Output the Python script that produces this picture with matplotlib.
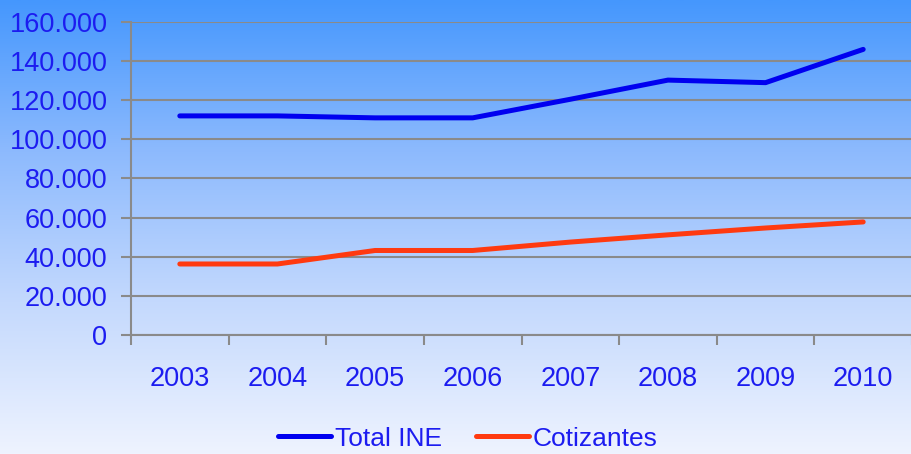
import matplotlib.pyplot as plt
import numpy as np
from matplotlib.colors import LinearSegmentedColormap

years = ['2003', '2004', '2005', '2006', '2007', '2008', '2009', '2010']
total_ine = [112000, 112000, 111000, 111000, 120500, 130300, 129000, 146000]
cotizantes = [36300, 36300, 43200, 43200, 47500, 51200, 54700, 57800]

plt.rcParams['font.family'] = ['Liberation Sans', 'DejaVu Sans']
txt_col = '#1c1cf0'

fig = plt.figure(figsize=(9.12, 4.54), dpi=100)

# gradient background over the whole figure
bg = fig.add_axes([0, 0, 1, 1], zorder=0)
cmap = LinearSegmentedColormap.from_list('bg', ['#eef3ff', '#c4d9fd', '#8dbafe', '#4597fd'])
grad = np.linspace(0, 1, 256).reshape(-1, 1)
bg.imshow(grad, aspect='auto', cmap=cmap, origin='lower', extent=[0, 1, 0, 1])
bg.axis('off')

ax = fig.add_axes([131 / 912, 119 / 454, 781 / 912, 313 / 454], zorder=1)
ax.patch.set_alpha(0)

x = np.arange(len(years))
ax.plot(x, total_ine, color='#0000f0', lw=3.6, solid_capstyle='round', label='Total INE')
ax.plot(x, cotizantes, color='#ff3a10', lw=3.6, solid_capstyle='round', label='Cotizantes')

ax.set_ylim(0, 160000)
ax.set_xlim(-0.5, -0.5 + 781 / 98)
ax.set_yticks(np.arange(0, 160001, 20000))
ax.set_yticklabels(['0' if v == 0 else f'{v // 1000}.000' for v in range(0, 160001, 20000)])
ax.set_xticks(x)
ax.set_xticklabels(years)
ax.set_xticks(np.arange(-0.5, 8, 1), minor=True)
ax.tick_params(axis='x', which='major', length=0, pad=22, labelsize=19.5, labelcolor=txt_col)
ax.tick_params(axis='x', which='minor', length=7, width=1.5, color='#8a8a8a', direction='out')
ax.tick_params(axis='y', length=7, width=1.5, color='#8a8a8a', labelsize=19.5, labelcolor=txt_col, pad=10)

ax.grid(axis='y', color='#8a8a8a', lw=1.5)
ax.set_axisbelow(True)
for s in ['top', 'right']:
    ax.spines[s].set_visible(False)
for s in ['left', 'bottom']:
    ax.spines[s].set_color('#8a8a8a')
    ax.spines[s].set_linewidth(1.5)

leg = fig.legend(loc='center', bbox_to_anchor=(0.513, 0.034), ncol=2, frameon=False,
                 fontsize=19, handlelength=2.0, handletextpad=0.15, columnspacing=1.3,
                 borderpad=0.1)
for t in leg.get_texts():
    t.set_color(txt_col)

fig.savefig('out.png', dpi=100)
